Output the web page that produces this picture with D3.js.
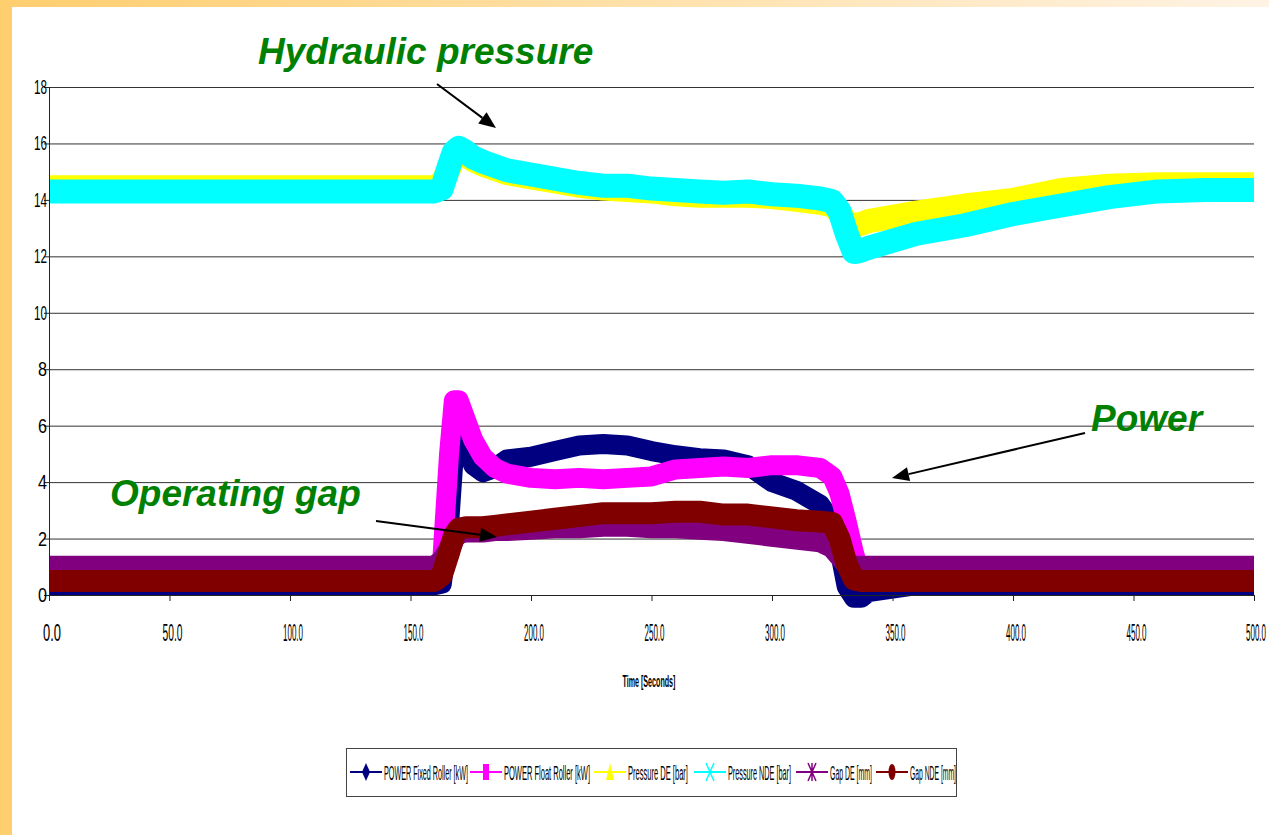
<!DOCTYPE html>
<html><head><meta charset="utf-8">
<script src="https://cdn.jsdelivr.net/npm/d3@7"></script>
<style>html,body{margin:0;padding:0;background:#fff;}svg{display:block;}</style>
</head><body>
<svg id="chart" width="1269" height="835"></svg>
<script>
// ---- data ----
const times = [0, 40, 80, 120, 160, 163, 166, 168, 170, 173, 176, 180, 185, 190, 200, 210, 220, 230, 240, 250, 260, 270, 280, 290, 300, 310, 320, 325, 328, 331, 334, 337, 340, 360, 380, 400, 420, 440, 460, 480, 500];
const powerFixed = [0.35, 0.35, 0.35, 0.35, 0.35, 0.4, 2.5, 5.0, 6.2, 5.3, 4.6, 4.35, 4.5, 4.8, 4.9, 5.1, 5.3, 5.35, 5.3, 5.1, 4.95, 4.85, 4.8, 4.6, 4.0, 3.7, 3.2, 2.6, 1.6, 0.3, -0.1, -0.1, 0.1, 0.35, 0.35, 0.35, 0.35, 0.35, 0.35, 0.35, 0.35];
const powerFloat = [0.5, 0.5, 0.5, 0.5, 0.5, 1.0, 5.0, 6.9, 6.9, 6.2, 5.5, 4.9, 4.5, 4.3, 4.15, 4.1, 4.15, 4.1, 4.15, 4.2, 4.45, 4.5, 4.55, 4.5, 4.6, 4.6, 4.5, 4.2, 3.6, 2.6, 1.5, 0.6, 0.5, 0.5, 0.5, 0.5, 0.5, 0.5, 0.5, 0.5, 0.5];
const pressureDE = [14.45, 14.45, 14.45, 14.45, 14.45, 14.6, 15.1, 15.5, 15.7, 15.6, 15.4, 15.25, 15.1, 14.95, 14.8, 14.65, 14.5, 14.4, 14.35, 14.3, 14.2, 14.15, 14.15, 14.15, 14.1, 14.0, 13.9, 13.8, 13.55, 13.2, 13.1, 13.15, 13.25, 13.55, 13.8, 14.0, 14.35, 14.5, 14.55, 14.55, 14.55];
const pressureNDE = [14.3, 14.3, 14.3, 14.3, 14.3, 14.4, 15.2, 15.7, 15.85, 15.7, 15.5, 15.35, 15.2, 15.05, 14.9, 14.75, 14.6, 14.5, 14.5, 14.4, 14.35, 14.3, 14.25, 14.3, 14.2, 14.15, 14.05, 13.95, 13.6, 12.8, 12.15, 12.2, 12.3, 12.8, 13.1, 13.5, 13.8, 14.1, 14.3, 14.35, 14.35];
const gapDE = [1.0, 1.0, 1.0, 1.0, 1.0, 1.2, 1.6, 2.0, 2.2, 2.25, 2.25, 2.25, 2.3, 2.3, 2.35, 2.4, 2.4, 2.45, 2.45, 2.4, 2.4, 2.35, 2.3, 2.2, 2.1, 2.0, 1.9, 1.7, 1.4, 1.1, 1.0, 1.0, 1.0, 1.0, 1.0, 1.0, 1.0, 1.0, 1.0, 1.0, 1.0];
const gapNDE = [0.5, 0.5, 0.5, 0.5, 0.5, 0.7, 1.5, 2.1, 2.35, 2.4, 2.4, 2.4, 2.45, 2.5, 2.6, 2.7, 2.8, 2.9, 2.9, 2.9, 2.95, 2.95, 2.85, 2.85, 2.75, 2.65, 2.6, 2.55, 2.0, 1.1, 0.55, 0.5, 0.5, 0.5, 0.5, 0.5, 0.5, 0.5, 0.5, 0.5, 0.5];

const seriesNames = ["POWER Fixed Roller [kW]", "POWER Float Roller [kW]", "Pressure DE [bar]", "Pressure NDE [bar]", "Gap DE [mm]", "Gap NDE [mm]"];
const xTicks = [0, 50, 100, 150, 200, 250, 300, 350, 400, 450, 500];
const xTickLabels = ["0.0", "50.0", "100.0", "150.0", "200.0", "250.0", "300.0", "350.0", "400.0", "450.0", "500.0"];
const yTicks = [0, 2, 4, 6, 8, 10, 12, 14, 16, 18];
const xTitle = "Time [Seconds]";
const annotations = ["Hydraulic pressure", "Power", "Operating gap"];

// ---- styles ----
const colors = ["#000080", "#FF00FF", "#FFFF00", "#00FFFF", "#800080", "#800000"];
const widths = [20, 20, 24, 24, 22, 22];
const markers = ["diamond", "square", "triangle", "x", "star", "circle"];
const values = [powerFixed, powerFloat, pressureDE, pressureNDE, gapDE, gapNDE];

const svg = d3.select("#chart");
const W = 1269, H = 835;
const font = "'Liberation Sans', Arial, sans-serif";

// compressed text helper: natural text scaled horizontally to a width
function fitText(parent, str, x, y, width, size, anchor, weight) {
  const t = parent.append("text").attr("x", 0).attr("y", 0)
    .attr("font-family", font).attr("font-size", size)
    .attr("font-weight", weight || "normal").attr("fill", "#000").text(str);
  const len = t.node().getComputedTextLength();
  const s = width / len;
  const x0 = anchor === "middle" ? x - width / 2 : anchor === "end" ? x - width : x;
  t.attr("transform", `translate(${x0},${y}) scale(${s},1)`);
  return t;
}

// background / frame
const defs = svg.append("defs");
const grad = defs.append("linearGradient").attr("id", "topg").attr("x1", "0").attr("x2", "1").attr("y1", "0").attr("y2", "0");
grad.append("stop").attr("offset", "0").attr("stop-color", "#FFCE6E");
grad.append("stop").attr("offset", "1").attr("stop-color", "#FFF3E4");
svg.append("rect").attr("width", W).attr("height", H).attr("fill", "#fff");
svg.append("rect").attr("x", 0).attr("y", 0).attr("width", W).attr("height", 7).attr("fill", "url(#topg)");
svg.append("rect").attr("x", 0).attr("y", 0).attr("width", 12).attr("height", H).attr("fill", "#FFCE6E");

const x = d3.scaleLinear().domain([0, 500]).range([49, 1254]);
const y = d3.scaleLinear().domain([0, 18]).range([595, 87]);

// gridlines
svg.append("g").selectAll("line").data(yTicks.filter(d => d > 0)).join("line")
  .attr("x1", x(0)).attr("x2", x(500)).attr("y1", d => y(d) + 0.5).attr("y2", d => y(d) + 0.5)
  .attr("stroke", "#333").attr("stroke-width", 1);

// series
const line = d3.line().x((d, i) => x(times[i])).y(d => y(d));
values.forEach((vals, k) => {
  svg.append("path").datum(vals).attr("d", line)
    .attr("fill", "none").attr("stroke", colors[k]).attr("stroke-width", widths[k])
    .attr("stroke-linejoin", "round").attr("stroke-linecap", "butt");
});

// axes
const ax = svg.append("g").attr("stroke", "#222");
ax.append("line").attr("x1", x(0)).attr("x2", x(500)).attr("y1", y(0) + 0.5).attr("y2", y(0) + 0.5);
ax.append("line").attr("x1", x(0) + 0.5).attr("x2", x(0) + 0.5).attr("y1", y(18)).attr("y2", y(0));
ax.selectAll(".xt").data(xTicks).join("line").attr("class", "xt")
  .attr("x1", d => x(d) + 0.5).attr("x2", d => x(d) + 0.5).attr("y1", y(0)).attr("y2", y(0) + 6);
ax.selectAll(".yt").data(yTicks).join("line").attr("class", "yt")
  .attr("x1", x(0) - 5).attr("x2", x(0)).attr("y1", d => y(d) + 0.5).attr("y2", d => y(d) + 0.5);

const xl = svg.append("g");
xTicks.forEach((d, i) => {
  const cx = i === xTicks.length - 1 ? x(d) + 2 : x(d) + 3;
  fitText(xl, xTickLabels[i], cx, 641, i === 0 ? 18 : 20, 24, "middle");
});
const yl = svg.append("g");
yTicks.forEach(d => fitText(yl, String(d), 47, y(d) + 7, d >= 10 ? 13 : 9, 20, "end"));
fitText(svg, xTitle, 649, 687, 53, 16, "middle", "bold");

// annotations
const annPos = [[258, 64], [1091, 431], [110, 506]];
annotations.forEach((t, i) => {
  svg.append("text").attr("x", annPos[i][0]).attr("y", annPos[i][1])
    .attr("font-family", font).attr("font-size", 37).attr("font-weight", "bold").attr("font-style", "italic")
    .attr("fill", "#008000").text(t);
});
function arrow(x1, y1, x2, y2) {
  const a = Math.atan2(y2 - y1, x2 - x1), L = 17, Wd = 7;
  const bx = x2 - L * Math.cos(a), by = y2 - L * Math.sin(a);
  svg.append("line").attr("x1", x1).attr("y1", y1).attr("x2", bx).attr("y2", by).attr("stroke", "#000").attr("stroke-width", 2);
  const p = [[x2, y2], [bx + Wd * Math.sin(a), by - Wd * Math.cos(a)], [bx - Wd * Math.sin(a), by + Wd * Math.cos(a)]];
  svg.append("path").attr("d", "M" + p.map(q => q.join(",")).join("L") + "Z").attr("fill", "#000");
}
arrow(437, 84, 496, 128);
arrow(1085, 433, 892, 478);
arrow(376, 521, 497, 537);

// legend
const lg = svg.append("g");
lg.append("rect").attr("x", 346.5).attr("y", 748.5).attr("width", 610).attr("height", 48)
  .attr("fill", "#fff").attr("stroke", "#444").attr("stroke-width", 1);
const legX = [350, 470, 594, 694, 796, 876];
const legTextW = [84, 86, 60, 63, 42, 46];
const ly = 772;
seriesNames.forEach((n, k) => {
  const g = lg.append("g");
  const x0 = legX[k];
  g.append("line").attr("x1", x0).attr("x2", x0 + 32).attr("y1", ly).attr("y2", ly).attr("stroke", colors[k]).attr("stroke-width", 2);
  const cx = x0 + 16;
  const m = markers[k];
  if (m === "diamond") g.append("path").attr("d", `M${cx},${ly-9}L${cx+4},${ly}L${cx},${ly+9}L${cx-4},${ly}Z`).attr("fill", colors[k]);
  if (m === "square") g.append("rect").attr("x", cx - 3).attr("y", ly - 8).attr("width", 6).attr("height", 16).attr("fill", colors[k]);
  if (m === "triangle") g.append("path").attr("d", `M${cx},${ly-9}L${cx+4},${ly+8}L${cx-4},${ly+8}Z`).attr("fill", colors[k]);
  if (m === "x") g.append("path").attr("d", `M${cx-4},${ly-9}L${cx+4},${ly+9}M${cx+4},${ly-9}L${cx-4},${ly+9}`).attr("stroke", colors[k]).attr("stroke-width", 1.5);
  if (m === "star") g.append("path").attr("d", `M${cx-4},${ly-9}L${cx+4},${ly+9}M${cx+4},${ly-9}L${cx-4},${ly+9}M${cx},${ly-9}L${cx},${ly+9}`).attr("stroke", colors[k]).attr("stroke-width", 1.5);
  if (m === "circle") g.append("ellipse").attr("cx", cx).attr("cy", ly).attr("rx", 3.5).attr("ry", 8).attr("fill", colors[k]);
  fitText(g, n, x0 + 34, ly + 8, legTextW[k], 21, "start");
});
</script>
</body></html>
